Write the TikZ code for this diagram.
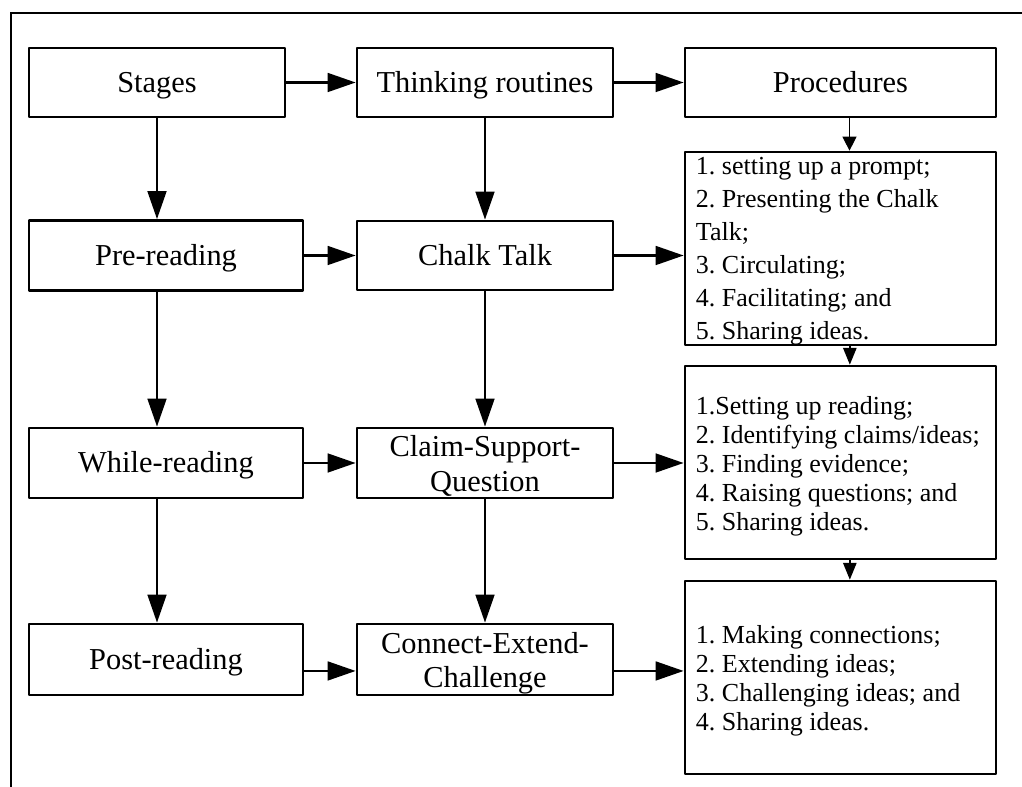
\documentclass[tikz,border=0pt]{standalone}
\usepackage{fontspec}
\setmainfont{Liberation Serif}
\usetikzlibrary{arrows.meta,calc}
\begin{document}
\frenchspacing
\begin{tikzpicture}[x=0.75pt,y=-0.75pt,
  box/.style={draw,line width=2pt,rectangle,inner sep=0pt,line join=round,
    font=\fontsize{22.8pt}{26pt}\selectfont,align=center},
  single/.style={text height=20pt,text depth=5pt},
  narrowbox/.style={box,minimum width=192pt,minimum height=51.75pt},
  widebox/.style={box,minimum width=205.5pt,minimum height=52.5pt},
  procbox/.style={box,minimum width=233.25pt,minimum height=51.75pt},
  listbox/.style={box,minimum width=233.25pt,minimum height=144.75pt},
  listtext/.style={inner sep=0pt,align=left,anchor=west},
  bigarrow/.style={line width=2pt,-{Triangle[length=21pt,width=14pt]}},
  thinarrow/.style={line width=0.8pt,-{Triangle[length=10.5pt,width=10.5pt]}},
  smallarrow/.style={line width=1pt,-{Triangle[length=12.5pt,width=10pt]}}
]
\useasboundingbox (0,0) rectangle (1022,787);
% outer frame (top and left edges)
\draw[line width=1.6pt] (11,800) -- (11,13) -- (1030,13);

% nodes
\node[narrowbox,single] (stages) at (157,82.5) {Stages};
\node[narrowbox,single] (think) at (485,82.5) {Thinking routines};
\node[procbox,single] (proc) at (840.5,82.5) {Procedures};

\node[widebox,single] (pre) at (166,255.5) {Pre-reading};
\node[narrowbox,single] (chalk) at (485,255.5) {Chalk Talk};

\node[widebox,single] (while) at (166,463) {While-reading};
\node[narrowbox,minimum height=52.5pt] (claim) at (485,463) {\rule{0pt}{20pt}Claim-Support-\\Question};

\node[widebox,single,minimum height=53.25pt] (post) at (166,659.5) {Post-reading};
\node[narrowbox,minimum height=53.25pt] (connect) at (485,659.5) {\rule{0pt}{21.5pt}Connect-Extend-\\Challenge};

\node[listbox] (box1) at (840.5,248.5) {};
\node[listbox] (box2) at (840.5,462.5) {};
\node[listbox] (box3) at (840.5,677.5) {};

\node[listtext,font=\fontsize{19.5pt}{24.75pt}\selectfont] (t1) at ([xshift=9pt,yshift=-2.25pt]box1.west)
  {1. setting up a prompt;\\2. Presenting the Chalk\\Talk;\\3. Circulating;\\4. Facilitating; and\\5. Sharing ideas.};
\node[listtext,font=\fontsize{19.5pt}{21.75pt}\selectfont] (t2) at ([xshift=9pt,yshift=-3pt]box2.west)
  {1.Setting up reading;\\2. Identifying claims/ideas;\\3. Finding evidence;\\4. Raising questions; and\\5. Sharing ideas.};
\node[listtext,font=\fontsize{19.5pt}{21.75pt}\selectfont] (t3) at ([xshift=9pt,yshift=-2.25pt]box3.west)
  {1. Making connections;\\2. Extending ideas;\\3. Challenging ideas; and\\4. Sharing ideas.};

% horizontal arrows
\draw[bigarrow] (stages.east) -- (think.west);
\draw[bigarrow] (think.east) -- (proc.west);
\draw[bigarrow] (pre.east) -- (chalk.west);
\draw[bigarrow] (while.east) -- (claim.west);
\draw[bigarrow] ([yshift=-8.6pt]post.east) -- ([yshift=-8.6pt]connect.west);
\draw[bigarrow] (chalk.east) -- (chalk.east -| box1.west);
\draw[bigarrow] (claim.east) -- (claim.east -| box2.west);
\draw[bigarrow] ([yshift=-8.6pt]connect.east) -- ([yshift=-8.6pt]connect.east -| box3.west);

% vertical arrows, left column
\draw[bigarrow] (stages.south) -- (stages.south |- pre.north);
\draw[bigarrow] (pre.south -| stages.south) -- (while.north -| stages.south);
\draw[bigarrow] (while.south -| stages.south) -- (post.north -| stages.south);

% vertical arrows, middle column
\draw[bigarrow] (think.south) -- (chalk.north);
\draw[bigarrow] (chalk.south) -- (claim.north);
\draw[bigarrow] (claim.south) -- (connect.north);

% right column
\draw[thinarrow] ([xshift=6.75pt]proc.south) -- ([xshift=6.75pt]box1.north);
\draw[smallarrow] ([xshift=7pt]box1.south) -- ([xshift=7pt]box2.north);
\draw[smallarrow] ([xshift=7pt]box2.south) -- ([xshift=7pt]box3.north);
\end{tikzpicture}
\end{document}
